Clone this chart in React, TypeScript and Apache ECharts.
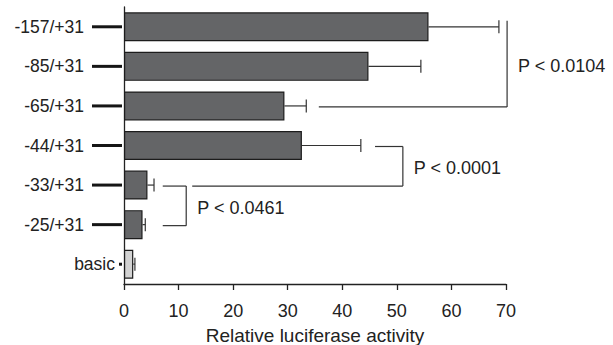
import React, { useEffect, useRef } from "react";
import * as echarts from "echarts";

const categories = ["-157/+31", "-85/+31", "-65/+31", "-44/+31", "-33/+31", "-25/+31", "basic"];
const means = [55.8, 44.8, 29.4, 32.6, 4.3, 3.4, 1.7];
const errors = [12.9, 9.6, 4.0, 10.8, 1.2, 0.5, 0.3];
const xTicks = [0, 10, 20, 30, 40, 50, 60, 70];

const bracketLabels = ["P < 0.0104", "P < 0.0001", "P < 0.0461"];
const bracketFrom = [0, 3, 4];
const bracketTo = [2, 4, 5];
const bracketTopStart = [70.2, 46.0, 7.1];
const bracketBottomStart = [35.7, 12.5, 7.1];
const bracketRight = [70.2, 51.1, 11.4];

const FONT = "'Liberation Sans', Arial, Helvetica, sans-serif";
const INK = "#222";

export default function App() {
  const ref = useRef<HTMLDivElement>(null);
  useEffect(() => {
    if (!ref.current) return;
    const chart = echarts.init(ref.current, null, { renderer: "svg" });
    const barData = means.map((v, i) => ({
      value: v,
      itemStyle: {
        color: categories[i] === "basic" ? "#d2d2d2" : "#646567",
      },
    }));
    const errData = means.map((v, i) => [v, i, v + errors[i]]);
    const tickData = categories.map((c, i) => [0, i]);
    const bracketData = bracketLabels.map((l, i) => [
      bracketFrom[i],
      bracketTo[i],
      bracketTopStart[i],
      bracketBottomStart[i],
      bracketRight[i],
      i,
    ]);
    const option: any = {
      animation: false,
      grid: { left: 124, right: 107, top: 7, bottom: 61, containLabel: false, outerBoundsMode: "none" },
      xAxis: {
        type: "value",
        min: xTicks[0],
        max: xTicks[xTicks.length - 1],
        interval: 10,
        name: "Relative luciferase activity",
        nameLocation: "middle",
        nameGap: 42,
        nameTextStyle: { fontFamily: FONT, fontSize: 19, color: INK },
        axisLine: { show: true, lineStyle: { color: INK, width: 1.3 } },
        axisTick: { show: true, length: 6, lineStyle: { color: INK, width: 1.3 } },
        axisLabel: { fontFamily: FONT, fontSize: 18, color: INK, margin: 18 },
        splitLine: { show: false },
      },
      yAxis: {
        type: "category",
        data: categories,
        inverse: true,
        axisLine: { show: true, lineStyle: { color: INK, width: 1.3 } },
        axisTick: { show: false },
        axisLabel: {
          fontFamily: FONT,
          fontSize: 17.5,
          color: INK,
          margin: 9,
          formatter: (v: string) => (v === "basic" ? `{b|${v}}` : `{p|${v}}`),
          rich: {
            b: { fontFamily: FONT, fontSize: 17.5, color: INK },
            p: { fontFamily: FONT, fontSize: 17.5, color: INK, padding: [0, 31, 0, 0] },
          },
        },
      },
      series: [
        {
          type: "bar",
          data: barData,
          barWidth: 29,
          itemStyle: { borderColor: "#1c1c1c", borderWidth: 1.2 },
          z: 3,
        },
        {
          type: "custom",
          data: errData,
          z: 2,
          renderItem: (params: any, api: any) => {
            const s = api.coord([api.value(0), api.value(1)]);
            const e = api.coord([api.value(2), api.value(1)]);
            const st = { stroke: "#333", lineWidth: 1.2, fill: "none" };
            return {
              type: "group",
              children: [
                { type: "line", shape: { x1: s[0], y1: s[1], x2: e[0], y2: e[1] }, style: st },
                { type: "line", shape: { x1: e[0], y1: e[1] - 6.5, x2: e[0], y2: e[1] + 6.5 }, style: st },
              ],
            };
          },
        },
        {
          type: "custom",
          data: tickData,
          z: 2,
          renderItem: (params: any, api: any) => {
            const p = api.coord([api.value(0), api.value(1)]);
            const len = categories[params.dataIndex] === "basic" ? 5 : 32;
            return {
              type: "line",
              shape: { x1: p[0] - len, y1: p[1], x2: p[0] - 2, y2: p[1] },
              style: { stroke: "#151515", lineWidth: 3 },
            };
          },
        },
        {
          type: "custom",
          data: bracketData,
          z: 2,
          renderItem: (params: any, api: any) => {
            const from = api.value(0);
            const to = api.value(1);
            const topStart = api.value(2);
            const botStart = api.value(3);
            const right = api.value(4);
            const idx = api.value(5);
            const tr = api.coord([right, from]);
            const br = api.coord([right, to]);
            const tl = api.coord([topStart, from]);
            const bl = api.coord([botStart, to]);
            const hasTopArm = tr[0] - tl[0] > 1;
            const topY = hasTopArm ? tr[1] + 1 : tr[1] - 6;
            const botY = br[1] + 1;
            const st = { stroke: "#333", lineWidth: 1.2, fill: "none" };
            const children: any[] = [
              { type: "line", shape: { x1: tr[0], y1: topY, x2: br[0], y2: botY }, style: st },
              { type: "line", shape: { x1: bl[0], y1: botY, x2: br[0], y2: botY }, style: st },
              {
                type: "text",
                style: {
                  text: bracketLabels[idx],
                  x: tr[0] + 11,
                  y: (topY + botY) / 2 + 2,
                  fontFamily: FONT,
                  fontSize: 18,
                  fill: INK,
                  align: "left",
                  verticalAlign: "middle",
                },
              },
            ];
            if (hasTopArm) {
              children.push({ type: "line", shape: { x1: tl[0], y1: topY, x2: tr[0], y2: topY }, style: st });
            }
            return { type: "group", children };
          },
        },
      ],
    };
    chart.setOption(option);
    return () => chart.dispose();
  }, []);
  return (
    <div
      ref={ref}
      style={{ position: "fixed", left: 0, top: 0, width: 613, height: 345, background: "#fff" }}
    />
  );
}
